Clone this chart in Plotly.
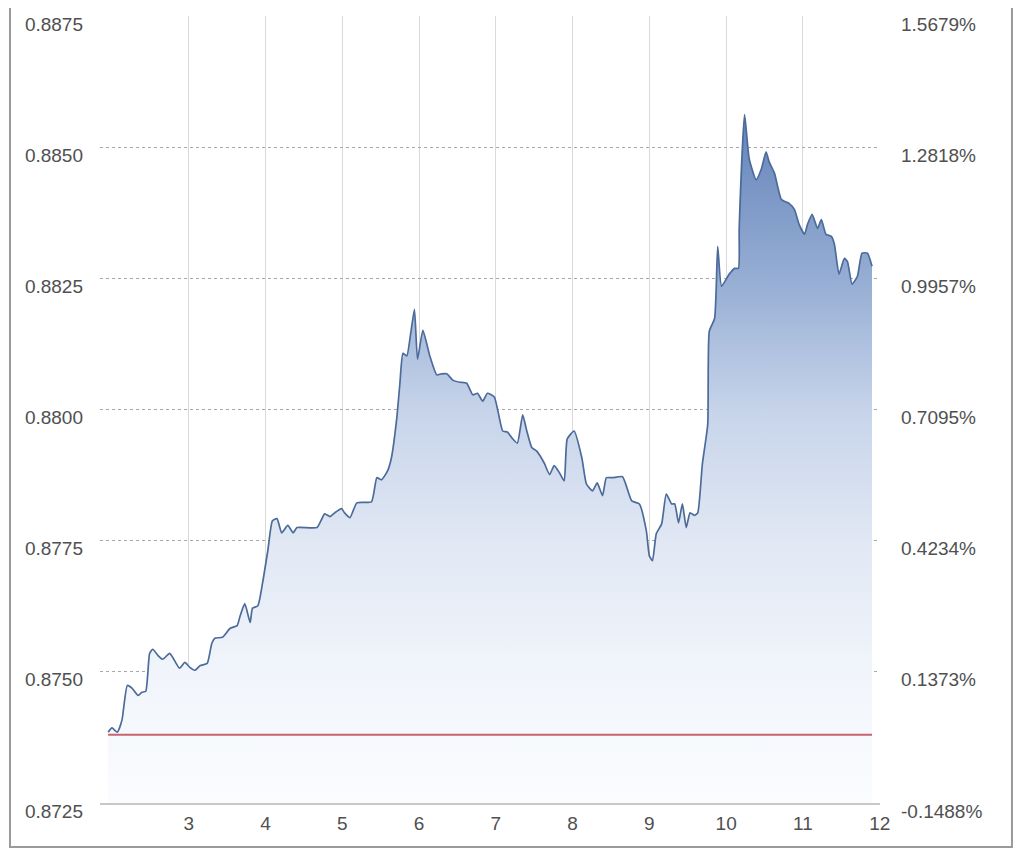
import plotly.graph_objects as go

# ---- data ----
x_days = [1.95, 2.00, 2.07, 2.13, 2.20, 2.26, 2.34, 2.39, 2.44, 2.49,
          2.53, 2.60, 2.66, 2.75, 2.79, 2.88, 2.95, 3.01, 3.08, 3.15,
          3.24, 3.30, 3.34, 3.44, 3.54, 3.63, 3.67, 3.73, 3.80, 3.83,
          3.90, 3.96, 4.03, 4.09, 4.15, 4.21, 4.29, 4.36, 4.41, 4.67,
          4.77, 4.84, 4.90, 4.99, 5.03, 5.10, 5.19, 5.38, 5.45, 5.51,
          5.59, 5.64, 5.71, 5.75, 5.79, 5.84, 5.89, 5.94, 5.98, 6.05,
          6.14, 6.23, 6.29, 6.36, 6.44, 6.53, 6.62, 6.70, 6.76, 6.83,
          6.89, 6.98, 7.09, 7.15, 7.22, 7.28, 7.35, 7.40, 7.47, 7.53,
          7.63, 7.70, 7.76, 7.83, 7.89, 7.93, 8.02, 8.12, 8.18, 8.26,
          8.32, 8.39, 8.44, 8.52, 8.65, 8.77, 8.87, 8.96, 9.00, 9.04,
          9.09, 9.16, 9.22, 9.29, 9.33, 9.38, 9.43, 9.48, 9.53, 9.59,
          9.63, 9.69, 9.76, 9.78, 9.85, 9.89, 9.94, 10.04, 10.11, 10.16,
          10.17, 10.24, 10.30, 10.39, 10.46, 10.52, 10.56, 10.63, 10.72, 10.82,
          10.89, 10.95, 11.02, 11.06, 11.12, 11.19, 11.24, 11.30, 11.37, 11.41,
          11.47, 11.54, 11.58, 11.64, 11.71, 11.77, 11.84, 11.90]

rate = [0.87385, 0.87393, 0.87385, 0.87408, 0.87474, 0.87469, 0.87455, 0.87461, 0.87463, 0.87535,
        0.87543, 0.87531, 0.87524, 0.87535, 0.87528, 0.87507, 0.87518, 0.87509, 0.87503, 0.87512,
        0.87516, 0.87554, 0.87564, 0.87566, 0.87583, 0.87588, 0.87607, 0.87630, 0.87594, 0.87621,
        0.87626, 0.87668, 0.87731, 0.87788, 0.87792, 0.87765, 0.87779, 0.87765, 0.87775, 0.87775,
        0.87801, 0.87796, 0.87803, 0.87811, 0.87803, 0.87794, 0.87822, 0.87824, 0.87870, 0.87866,
        0.87883, 0.87908, 0.87984, 0.88049, 0.88107, 0.88102, 0.88144, 0.88191, 0.88096, 0.88151,
        0.88102, 0.88066, 0.88068, 0.88068, 0.88056, 0.88052, 0.88050, 0.88028, 0.88031, 0.88016,
        0.88031, 0.88024, 0.87959, 0.87957, 0.87944, 0.87936, 0.87990, 0.87961, 0.87927, 0.87921,
        0.87898, 0.87876, 0.87893, 0.87879, 0.87864, 0.87944, 0.87959, 0.87908, 0.87858, 0.87845,
        0.87860, 0.87836, 0.87870, 0.87870, 0.87872, 0.87826, 0.87820, 0.87769, 0.87721, 0.87712,
        0.87763, 0.87782, 0.87839, 0.87820, 0.87820, 0.87784, 0.87820, 0.87775, 0.87803, 0.87798,
        0.87803, 0.87896, 0.87972, 0.88149, 0.88174, 0.88311, 0.88235, 0.88258, 0.88269, 0.88269,
        0.88345, 0.88562, 0.88478, 0.88438, 0.88459, 0.88491, 0.88472, 0.88450, 0.88400, 0.88393,
        0.88381, 0.88353, 0.88334, 0.88353, 0.88372, 0.88345, 0.88362, 0.88334, 0.88330, 0.88315,
        0.88258, 0.88288, 0.88282, 0.88239, 0.88254, 0.88298, 0.88298, 0.88273]

base_rate = 0.8738

y_ticks = [0.8725, 0.8750, 0.8775, 0.8800, 0.8825, 0.8850, 0.8875]
y_tick_labels = ["0.8725", "0.8750", "0.8775", "0.8800", "0.8825", "0.8850", "0.8875"]
pct_tick_labels = ["-0.1488%", "0.1373%", "0.4234%", "0.7095%", "0.9957%", "1.2818%", "1.5679%"]
x_ticks = [3, 4, 5, 6, 7, 8, 9, 10, 11, 12]
x_tick_labels = ["3", "4", "5", "6", "7", "8", "9", "10", "11", "12"]

y_min, y_max = y_ticks[0], y_ticks[-1]
y_range = [y_min - 1e-7, y_max + 1e-7]
x_range = [1.844, 12.004]

FONT = dict(family="Liberation Sans, Arial, sans-serif", size=19, color="#505050")

fig = go.Figure()

# floor of the area fill (bottom of the value axis)
fig.add_trace(go.Scatter(
    x=x_days, y=[y_min] * len(x_days), mode="lines",
    line=dict(width=0, color="rgba(0,0,0,0)"), hoverinfo="skip", showlegend=False))

# price area
fig.add_trace(go.Scatter(
    x=x_days, y=rate, mode="lines",
    line=dict(color="#4c6b9a", width=1.7, shape="spline", smoothing=0.5),
    fill="tonexty",
    fillgradient=dict(
        type="vertical",
        start=y_min, stop=max(rate),
        colorscale=[
            [0.00, "rgb(251,252,254)"],
            [0.19, "rgb(241,245,251)"],
            [0.38, "rgb(225,232,244)"],
            [0.57, "rgb(199,212,234)"],
            [0.76, "rgb(150,174,212)"],
            [1.00, "rgb(100,131,186)"],
        ]),
    showlegend=False))

# reference (previous close) line, on the percent axis
fig.add_trace(go.Scatter(
    x=[x_days[0], x_days[-1]], y=[base_rate, base_rate], yaxis="y2",
    mode="lines", line=dict(color="#c8646e", width=2), showlegend=False))

# the page adds an 8px body margin, so the figure is 8px smaller on each side
fig.update_layout(
    width=1016, height=847,
    margin=dict(l=92, r=144, t=6, b=52),
    paper_bgcolor="white", plot_bgcolor="white",
    showlegend=False,
    font=FONT,
    xaxis=dict(
        range=x_range, tickvals=x_ticks, ticktext=x_tick_labels,
        showgrid=True, gridcolor="#d9d9d9", gridwidth=1,
        showline=True, linecolor="#c8c8c8", linewidth=1.5,
        zeroline=False, ticks="", tickfont=FONT, ticklabelstandoff=2),
    yaxis=dict(
        range=y_range, tickvals=y_ticks, ticktext=y_tick_labels,
        showgrid=True, gridcolor="#a8a8a8", gridwidth=1, griddash="dot",
        showline=False, zeroline=False, ticks="", tickfont=FONT,
        ticklabelshift=8, ticklabelstandoff=16),
    yaxis2=dict(
        range=y_range, tickvals=y_ticks, ticktext=pct_tick_labels,
        overlaying="y", side="right", showgrid=False, showline=False,
        zeroline=False, ticks="", tickfont=FONT,
        ticklabelshift=8, ticklabelstandoff=20),
    shapes=[
        dict(type="rect", xref="paper", yref="paper",
             x0=-0.1154, x1=1.1692, y0=-0.0558, y1=1.03,
             line=dict(color="#9a9a9a", width=2), fillcolor="rgba(0,0,0,0)", layer="below"),
    ],
)

fig.write_html("out.html")
